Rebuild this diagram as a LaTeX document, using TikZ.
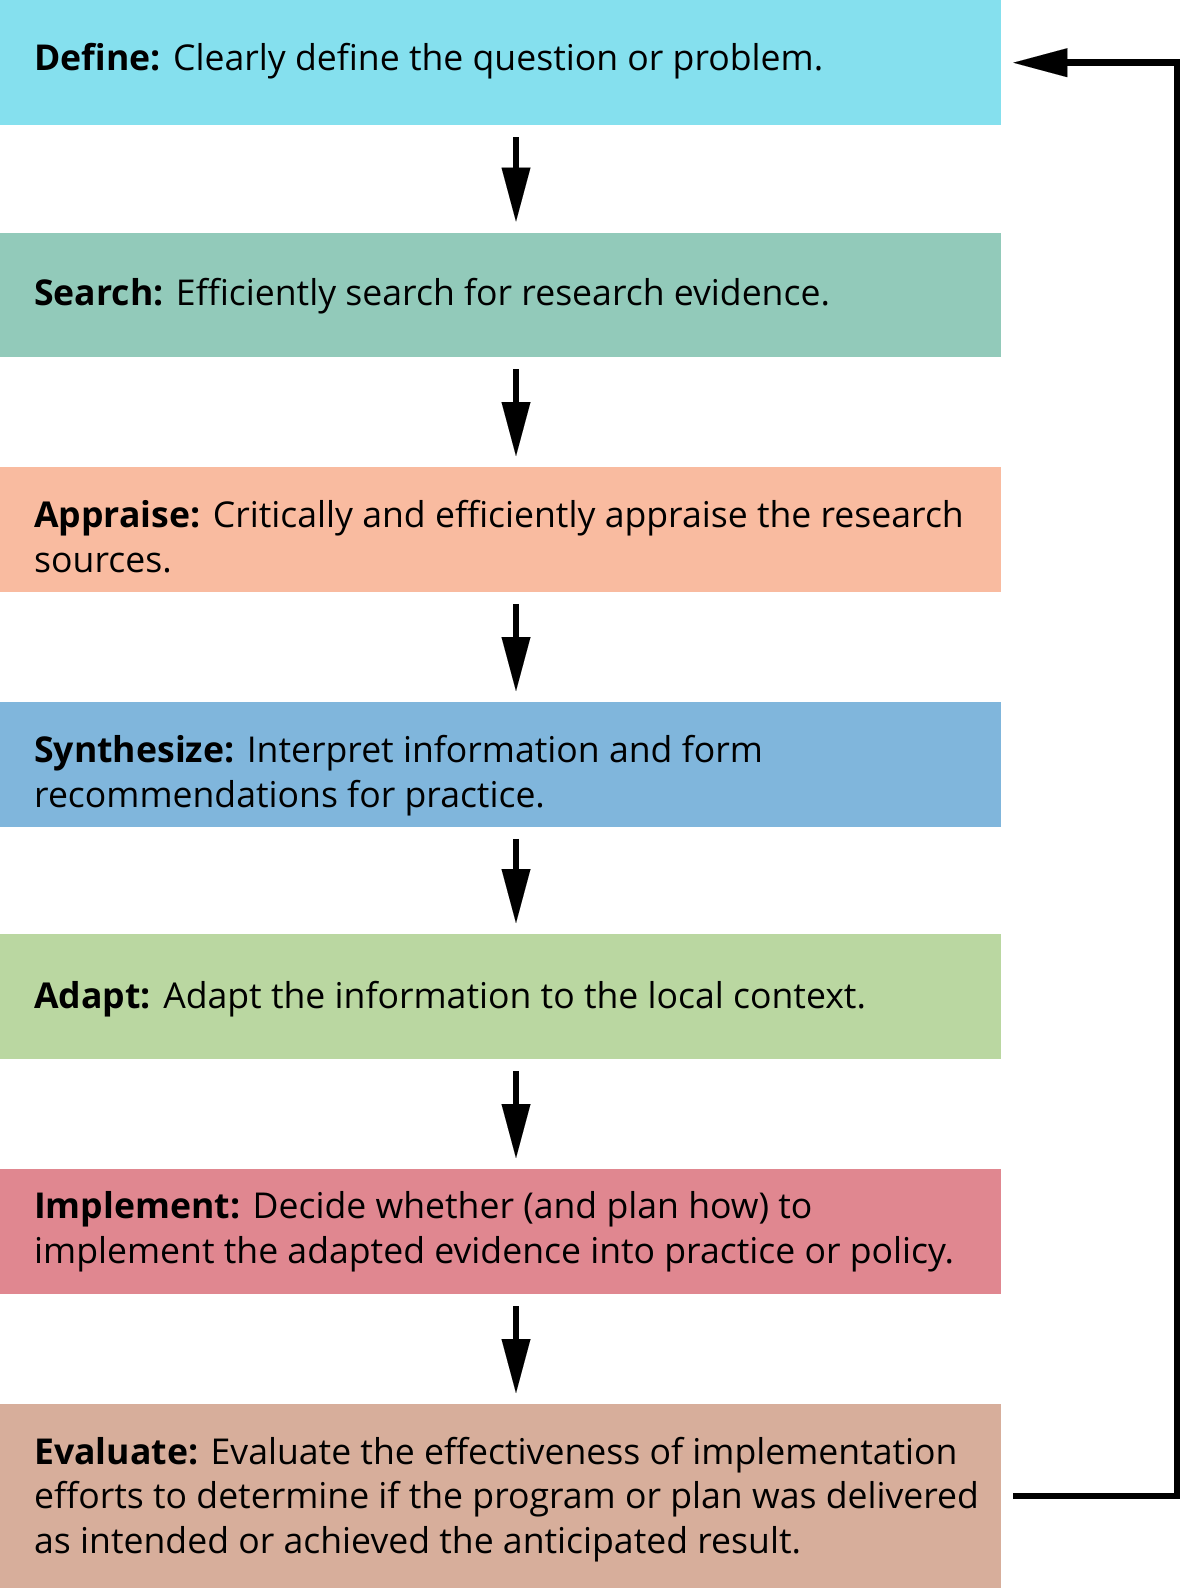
\documentclass[tikz,border=0pt]{standalone}
\usepackage{fontspec}
\setmainfont{Open Sans}
\usetikzlibrary{arrows.meta}
\definecolor{cDefine}{HTML}{85E0EE}
\definecolor{cSearch}{HTML}{92CABA}
\definecolor{cAppraise}{HTML}{F9BBA0}
\definecolor{cSynth}{HTML}{80B6DC}
\definecolor{cAdapt}{HTML}{BAD7A1}
\definecolor{cImpl}{HTML}{E08790}
\definecolor{cEval}{HTML}{D7AE9B}
\tikzset{
  stagebox/.style={rectangle, draw=none, inner sep=0pt, anchor=north west,
    minimum width=1001pt},
  stagetext/.style={anchor=base west, inner sep=0pt,
    font=\fontsize{35.6}{44.6}\selectfont},
  flow/.style={line width=6pt,
    -{Triangle[length=54pt,width=29pt,line width=0.01pt]}},
  loop/.style={line width=6.5pt, line join=miter,
    -{Triangle[length=54pt,width=29pt,line width=0.01pt]}},
}
\newcommand{\stagelines}[1]{\parbox[t]{990pt}{\raggedright #1}}
\begin{document}
\begin{tikzpicture}[x=1pt,y=-1pt]
  \useasboundingbox (0,0) rectangle (1181,1588);

  % stage boxes
  \node[stagebox, fill=cDefine,   minimum height=125pt]   (define) at (0,0) {};
  \node[stagebox, fill=cSearch,   minimum height=124.5pt] (search) at (0,232.5) {};
  \node[stagebox, fill=cAppraise, minimum height=124.5pt] (appraise) at (0,467) {};
  \node[stagebox, fill=cSynth,    minimum height=124.5pt] (synth) at (0,702) {};
  \node[stagebox, fill=cAdapt,    minimum height=124.5pt] (adapt) at (0,934) {};
  \node[stagebox, fill=cImpl,     minimum height=125pt]   (impl) at (0,1169) {};
  \node[stagebox, fill=cEval,     minimum height=184pt]   (eval) at (0,1404) {};

  % stage descriptions
  \node[stagetext] (tdefine) at (34,70.7)
    {\stagelines{\textbf{Define:} Clearly define the question or problem.}};
  \node[stagetext] (tsearch) at (34,305.5)
    {\stagelines{\textbf{Search:} Efficiently search for research evidence.}};
  \node[stagetext] (tappraise) at (34,527.5)
    {\stagelines{\textbf{Appraise:} Critically and efficiently appraise the research\\sources.}};
  \node[stagetext] (tsynth) at (34,762.5)
    {\stagelines{\textbf{Synthesize:} Interpret information and form\\recommendations for practice.}};
  \node[stagetext] (tadapt) at (34,1008.5)
    {\stagelines{\textbf{Adapt:} Adapt the information to the local context.}};
  \node[stagetext] (timpl) at (34,1218.5)
    {\stagelines{\textbf{Implement:} Decide whether (and plan how) to\\implement the adapted evidence into practice or policy.}};
  \node[stagetext] (teval) at (34,1464)
    {\stagelines{\textbf{Evaluate:} Evaluate the effectiveness of implementation\\efforts to determine if the program or plan was delivered\\as intended or achieved the anticipated result.}};

  % column of the down arrows and of the return loop
  \coordinate (ax) at (516,0);
  \coordinate (loopx) at (1177,0);

  \draw[flow] ([yshift=-12pt]define.south -| ax)   -- ([yshift=11pt]search.north -| ax);
  \draw[flow] ([yshift=-12pt]search.south -| ax)   -- ([yshift=11pt]appraise.north -| ax);
  \draw[flow] ([yshift=-12pt]appraise.south -| ax) -- ([yshift=11pt]synth.north -| ax);
  \draw[flow] ([yshift=-12pt]synth.south -| ax)    -- ([yshift=11pt]adapt.north -| ax);
  \draw[flow] ([yshift=-12pt]adapt.south -| ax)    -- ([yshift=11pt]impl.north -| ax);
  \draw[flow] ([yshift=-12pt]impl.south -| ax)     -- ([yshift=11pt]eval.north -| ax);

  % return from Evaluate back to Define
  \draw[loop] ([xshift=12pt]eval.east) -- (eval.east -| loopx)
    -- (define.east -| loopx) -- ([xshift=12pt]define.east);
\end{tikzpicture}
\end{document}
